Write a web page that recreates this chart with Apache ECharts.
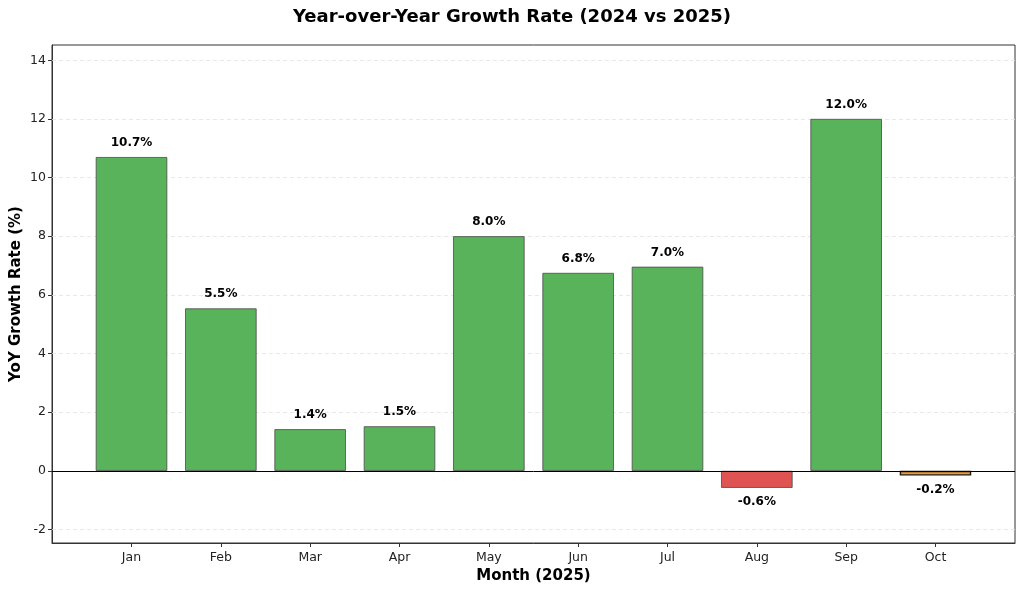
<!DOCTYPE html>
<html><head><meta charset="utf-8">
<script src="https://cdn.jsdelivr.net/npm/echarts@6/dist/echarts.min.js"></script>
<style>html,body{margin:0;padding:0;background:#fff}#c{width:1024px;height:593px}</style>
</head><body><div id="c"></div>
<script>
const months = ['Jan','Feb','Mar','Apr','May','Jun','Jul','Aug','Sep','Oct'];
const growth = [10.7, 5.54, 1.42, 1.52, 8.0, 6.75, 6.96, -0.58, 12.0, -0.16];
const labels = ['10.7%','5.5%','1.4%','1.5%','8.0%','6.8%','7.0%','-0.6%','12.0%','-0.2%'];
const yTicks = [-2, 0, 2, 4, 6, 8, 10, 12, 14];

const GREEN = '#58b35a', RED = '#df5353', ORANGE = '#f39a2e';
const font = 'DejaVu Sans';

const data = growth.map((v, i) => {
  const isOct = i === months.length - 1;
  const color = isOct ? ORANGE : (v >= 0 ? GREEN : RED);
  return {
    value: [i, v],
    itemStyle: {
      color: color,
      borderColor: isOct ? '#1a1a1a' : '#4a4a4a',
      borderWidth: isOct ? 1.4 : 0.8
    },
    label: {
      show: true,
      position: v >= 0 ? 'top' : 'bottom',
      distance: 8,
      formatter: labels[i],
      fontFamily: font, fontWeight: 'bold', fontSize: 12, color: '#000'
    }
  };
});

const chart = echarts.init(document.getElementById('c'), null, {renderer: 'canvas'});
chart.setOption({
  animation: false,
  backgroundColor: '#fff',
  title: {
    text: 'Year-over-Year Growth Rate (2024 vs 2025)',
    left: 'center', top: 3,
    textStyle: {fontFamily: font, fontWeight: 'bold', fontSize: 18, color: '#000'}
  },
  grid: {left: 52, right: 9, top: 45, bottom: 50, outerBoundsMode: 'none', containLabel: false,
         show: true, borderColor: '#333', borderWidth: 1, backgroundColor: 'transparent'},
  xAxis: {
    type: 'value', min: -0.89, max: 9.89,
    name: 'Month (2025)', nameLocation: 'middle', nameGap: 26, nameMoveOverlap: false,
    nameTextStyle: {fontFamily: font, fontWeight: 'bold', fontSize: 15, color: '#000'},
    axisLine: {show: true, onZero: false, lineStyle: {color: '#333'}},
    axisTick: {show: true, customValues: months.map((m, i) => i), length: 4, lineStyle: {color: '#333'}},
    axisLabel: {customValues: months.map((m, i) => i), formatter: v => months[Math.round(v)], fontFamily: font, fontSize: 12.5, color: '#222', margin: 8},
    splitLine: {show: false}
  },
  yAxis: {
    type: 'value', min: -2.46, max: 14.52,
    name: 'YoY Growth Rate (%)', nameLocation: 'middle', nameGap: 28, nameMoveOverlap: false,
    nameTextStyle: {fontFamily: font, fontWeight: 'bold', fontSize: 15, color: '#000'},
    axisLine: {show: true, onZero: false, lineStyle: {color: '#333'}},
    axisTick: {show: true, customValues: yTicks, length: 4, lineStyle: {color: '#333'}},
    axisLabel: {customValues: yTicks, fontFamily: font, fontSize: 12.5, color: '#222', margin: 6},
    splitLine: {show: false}
  },
  series: [{
    type: 'line',
    data: [],
    z: 1,
    markLine: {
      z: 1,
      silent: true, symbol: 'none', label: {show: false},
      data: yTicks.filter(t => t !== 0).map(t => ({yAxis: t, lineStyle: {color: '#e3e3e3', type: [4, 3], width: 0.8}}))
    }
  }, {
    type: 'bar',
    data: data,
    barWidth: 71.5,
    z: 2,
    markLine: {
      z: 5,
      silent: true, symbol: 'none', label: {show: false},
      data: [{yAxis: 0, lineStyle: {color: '#000', type: 'solid', width: 1}}]
    }
  }]
});
</script></body></html>
